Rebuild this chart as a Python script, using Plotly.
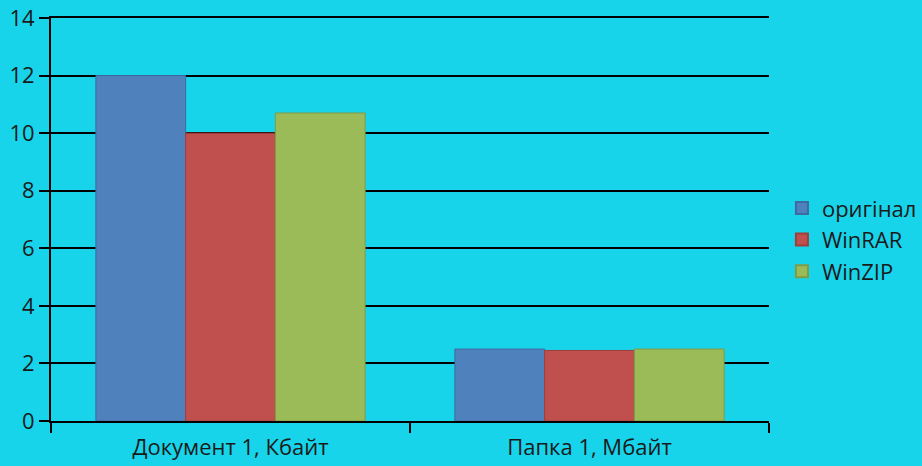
import plotly.graph_objects as go

categories = ["Документ 1, Кбайт", "Папка 1, Мбайт"]
series_names = ["оригінал", "WinRAR", "WinZIP"]
original = [12, 2.5]
winrar = [10, 2.45]
winzip = [10.7, 2.5]
y_ticks = [0, 2, 4, 6, 8, 10, 12, 14]

colors = ["#4F81BD", "#C0504D", "#9BBB59"]
borders = ["#3E6A9E", "#A03E3B", "#7F9B45"]
bg = "#17D4EA"
font = "Open Sans, Noto Sans, sans-serif"

fig = go.Figure()
for name, vals, c, b in zip(series_names, [original, winrar, winzip], colors, borders):
    fig.add_trace(go.Bar(x=categories, y=vals, name=name,
                         marker=dict(color=c, line=dict(color=b, width=1))))

fig.update_layout(
    width=922, height=466,
    paper_bgcolor=bg, plot_bgcolor=bg,
    margin=dict(l=51, r=153, t=18, b=45, autoexpand=False),
    barmode="group", bargap=0.25, bargroupgap=0,
    font=dict(family=font, size=22, color="#1a1a1a"),
    legend=dict(x=1.018, y=0.45, yanchor="middle", xanchor="left",
                font=dict(size=22), tracegroupgap=0, itemsizing="constant",
                bgcolor="rgba(0,0,0,0)"),
    showlegend=True,
)
fig.update_yaxes(range=[0, 14], tickvals=y_ticks, showgrid=True, gridcolor="black",
                 gridwidth=1.5, showline=True, linecolor="black", linewidth=2,
                 ticks="outside", ticklen=10, tickcolor="black", tickwidth=2,
                 zeroline=False, tickfont=dict(size=22))
fig.update_xaxes(showline=True, linecolor="black", linewidth=2, mirror=True,
                 ticks="outside", tickson="boundaries", ticklen=10, tickcolor="black",
                 tickwidth=2, showgrid=False, tickfont=dict(size=22),
                 ticklabelstandoff=6)

fig.write_html("out.html", config={"displayModeBar": False},
               post_script="document.body.style.margin='0';document.body.style.overflow='hidden';window.dispatchEvent(new Event('resize'));")
